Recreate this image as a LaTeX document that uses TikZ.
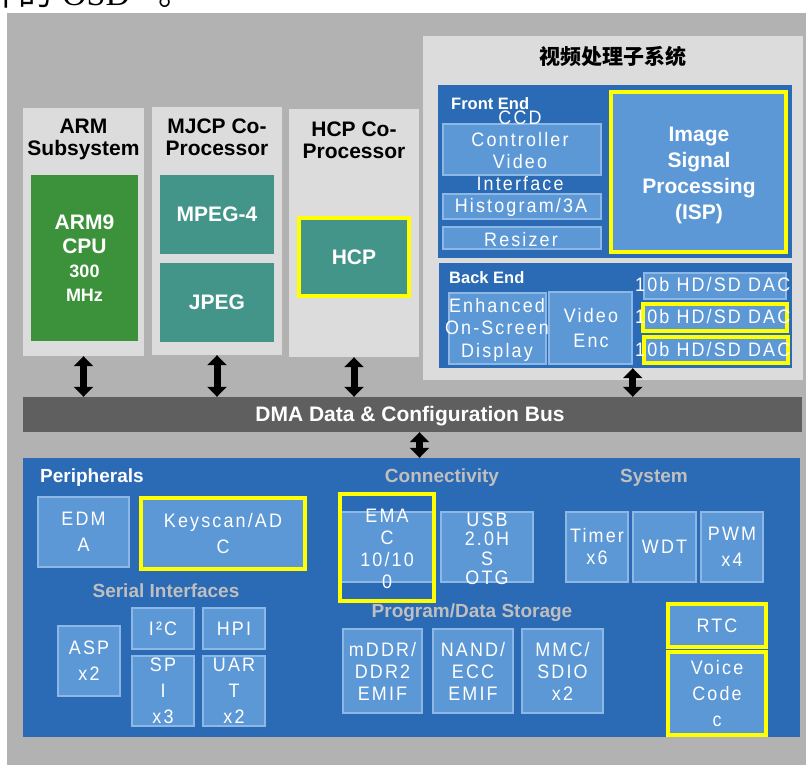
\documentclass[tikz,border=0pt]{standalone}
\usepackage{fontspec}
\setmainfont{Liberation Sans}
\newfontfamily\cjk{Noto Sans CJK SC}
\newfontfamily\serifosd{Liberation Serif}
\newfontfamily\spaced[LetterSpace=11,FakeStretch=0.92]{Liberation Sans}
\usetikzlibrary{arrows.meta}

\definecolor{bggray}{HTML}{B2B2B2}
\definecolor{colgray}{HTML}{DCDCDC}
\definecolor{armgreen}{HTML}{3B923A}
\definecolor{cpteal}{HTML}{43958A}
\definecolor{blkblue}{HTML}{2B6AB4}
\definecolor{subblue}{HTML}{5D98D6}
\definecolor{edgeblue}{HTML}{8DB7E5}
\definecolor{busgray}{HTML}{5F5F5F}
\definecolor{hdgray}{HTML}{BFBFBF}
\definecolor{hilite}{HTML}{FFFF00}

\tikzset{
 col/.style={fill=colgray,inner sep=0pt},
 blk/.style={fill=blkblue,inner sep=0pt},
 sub/.style={fill=subblue,draw=edgeblue,line width=1.5pt,inner sep=0pt},
 hl/.style={draw=hilite,line width=4pt,inner sep=0pt},
 hlsub/.style={sub,hl},
 unit/.style={inner sep=0pt,text=white,align=center,font=\bfseries\fontsize{21}{24}\selectfont},
 hd/.style={inner sep=0pt,align=center,font=\bfseries\fontsize{21}{22}\selectfont},
 part/.style={anchor=west,inner sep=0pt,text=white,font=\bfseries\fontsize{16.5}{18}\selectfont},
 sec/.style={inner sep=0pt,text=hdgray,font=\bfseries\fontsize{19}{22}\selectfont},
 lbl/.style={inner sep=0pt,text=white,align=center,font=\spaced\fontsize{19.5}{22}\selectfont},
 lblw/.style={lbl,font=\spaced\fontsize{19.5}{26}\selectfont},
 lbln/.style={lbl,font=\spaced\fontsize{19.5}{19.5}\selectfont},
 dblarrow/.style={{Triangle[width=19pt,length=10pt]}-{Triangle[width=19pt,length=10pt]},line width=7pt},
}

\begin{document}
\begin{tikzpicture}[x=1pt,y=-1pt]
\useasboundingbox (0,0) rectangle (806,765);
% last line of the page text, cut off above the figure
\node[anchor=base west,inner sep=0pt,font=\fontsize{34}{34}\selectfont] (prevline) at (-16,6)
 {{\cjk 件的}\hspace{10pt}{\serifosd OSD}\hspace{28pt}{\cjk 。}};
\fill[bggray] (7,13) rectangle (806,765);

% processor columns
\foreach \n/\cx/\cy/\cw/\ty/\txt in {arm/83.5/232/121/139/{ARM\\Subsystem},mjcp/217/231/130/137/{MJCP Co-\\Processor},hcp/354/233/130/140/{HCP Co-\\Processor}}
{
 \node[col,minimum width=\cw pt,minimum height=248pt] (\n) at (\cx,\cy) {};
 \node[hd] (\n-title) at (\cx,\ty) {\txt};
}
\node[unit,fill=armgreen,minimum width=107pt,minimum height=166pt] (cpu) at (84.5,258)
 {ARM9\\CPU\\{\fontsize{18}{24}\selectfont 300}\\{\fontsize{18}{24}\selectfont MHz}};
\node[unit,fill=cpteal,minimum width=114pt,minimum height=79pt] (mpeg) at (217,214.5) {MPEG-4};
\node[unit,fill=cpteal,minimum width=114pt,minimum height=79pt] (jpeg) at (217,302.5) {JPEG};
\node[unit,fill=cpteal,hl,minimum width=110pt,minimum height=78pt] (hcpcore) at (354,257) {HCP};

% video processing subsystem
\node[col,minimum width=380pt,minimum height=344pt] (vpss) at (613,208) {};
\node[inner sep=0pt,font=\cjk\bfseries\fontsize{21}{24}\selectfont] (vpss-title) at (613,57) {视频处理子系统};
\node[blk,minimum width=354pt,minimum height=173pt] (front) at (615,171.5) {};
\node[part] (front-title) at (451,104) {Front End};
\node[sub,minimum width=158pt,minimum height=51pt] (ccd) at (522,149.5) {};
\node[lbl] (ccd-txt) at (520,150.5) {CCD\\Controller\\Video\\Interface};
\node[sub,minimum width=158pt,minimum height=25pt] (hist) at (522,206.5) {};
\node[lbl] (hist-txt) at (521,207) {Histogram/3A};
\node[sub,minimum width=158pt,minimum height=22pt] (resz) at (522,238) {};
\node[lbl] (resz-txt) at (521,240) {Resizer};
\node[hlsub,minimum width=175pt,minimum height=160pt] (isp) at (698.5,172) {};
\node[unit,font=\bfseries\fontsize{21}{25.7}\selectfont] (isp-txt) at (699,175.5) {Image\\Signal\\Processing\\(ISP)};

\node[blk,minimum width=353pt,minimum height=105pt] (back) at (615.5,315.5) {};
\node[part] (back-title) at (449,278) {Back End};
\node[sub,minimum width=97pt,minimum height=71pt] (osd) at (497.5,328.5) {};
\node[lbl,font=\spaced\fontsize{19.5}{22.5}\selectfont] (osd-txt) at (497,329.5) {Enhanced\\On-Screen\\Display};
\node[sub,minimum width=83pt,minimum height=72pt] (venc) at (590.5,328) {};
\node[lbl,font=\spaced\fontsize{19.5}{25}\selectfont] (venc-txt) at (591,328.5) {Video\\Enc};
\node[sub,minimum width=142pt,minimum height=26pt] (dac1) at (715,286) {};
\node[hlsub,minimum width=144pt,minimum height=27pt] (dac2) at (715,317.5) {};
\node[hlsub,minimum width=144pt,minimum height=26pt] (dac3) at (716,350) {};
\begin{scope}
 \clip (back.north west) rectangle (back.south east);
 \foreach \dn/\y in {1/285,2/317,3/350}
  \node[lbl,anchor=west] (dac\dn-txt) at (635,\y) {10b HD/SD DAC};
\end{scope}

% bus
\node[fill=busgray,inner sep=0pt,minimum width=779pt,minimum height=35pt,text=white,
 font=\bfseries\fontsize{21}{24}\selectfont] (bus) at (412.5,414.5) {};
\node[text=white,inner sep=0pt,font=\bfseries\fontsize{21}{24}\selectfont] (bus-txt) at (410,416) {DMA Data \& Configuration Bus};

% peripherals
\node[blk,minimum width=777pt,minimum height=279pt] (periph) at (411.5,597.5) {};
\node[part,font=\bfseries\fontsize{19}{22}\selectfont] (periph-title) at (40,478) {Peripherals};
\node[sec] (conn-title) at (442,478) {Connectivity};
\node[sec] (sys-title) at (654,478) {System};
\node[sec] (serial-title) at (166,591) {Serial Interfaces};
\node[sec] (store-title) at (472,613) {Program/Data Storage};

\node[sub,minimum width=92pt,minimum height=70pt] (emac) at (387,547) {};
\node[hl,minimum width=94pt,minimum height=107pt] (emac-hl) at (387,547.5) {};
\node[lbl] (emac-txt) at (387,549) {EMA\\C\\10/10\\0};

\foreach \n/\st/\cx/\cy/\bw/\bh/\txt in {
 edma/sub/83.5/532/91/70/{EDM\\A},
 keyscan/hlsub/223/533.5/164/71/{Keyscan/AD\\C},
 asp/sub/89/661/62/70/{ASP\\x2},
 spi/sub/163/691/62/70/{SP\\I\\x3},
 uart/sub/234/691/62/70/{UAR\\T\\x2},
 pwm/sub/732/547/62/70/{PWM\\x4},
 voice/hlsub/717/693.5/98/83/{Voice\\Code\\c}}
{
 \node[\st,minimum width=\bw pt,minimum height=\bh pt] (\n) at (\cx,\cy) {};
 \node[lblw] (\n-txt) at (\n) {\txt};
}
\foreach \n/\st/\cx/\cy/\bw/\bh/\txt in {
 i2c/sub/163/628.5/62/41/{I²C},
 hpi/sub/234/628.5/62/41/{HPI},
 timer/sub/597/547/62/70/{Timer\\x6},
 wdt/sub/664.5/547/63/70/{WDT},
 mddr/sub/382.5/671/79/84/{mDDR/\\DDR2\\EMIF},
 nand/sub/473/671/80/84/{NAND/\\ECC\\EMIF},
 mmc/sub/562.5/671/81/84/{MMC/\\SDIO\\x2},
 rtc/hlsub/717/625.5/98/43/{RTC}}
{
 \node[\st,minimum width=\bw pt,minimum height=\bh pt] (\n) at (\cx,\cy) {};
 \node[lbl] (\n-txt) at (\n) {\txt};
}
\node[sub,minimum width=92pt,minimum height=70pt] (usb) at (487,547) {};
\node[lbln] (usb-txt) at (487,549) {USB\\2.0H\\S\\OTG};

% bus connections
\foreach \n in {arm,mjcp,hcp}
 \draw[dblarrow] (\n.south) -- (\n.south |- bus.north);
\draw[dblarrow] (venc.east |- back.south) -- (venc.east |- bus.north);
\draw[dblarrow] ([xshift=7pt]bus.south) -- ([xshift=7pt]bus.south |- periph.north);
\end{tikzpicture}
\end{document}
